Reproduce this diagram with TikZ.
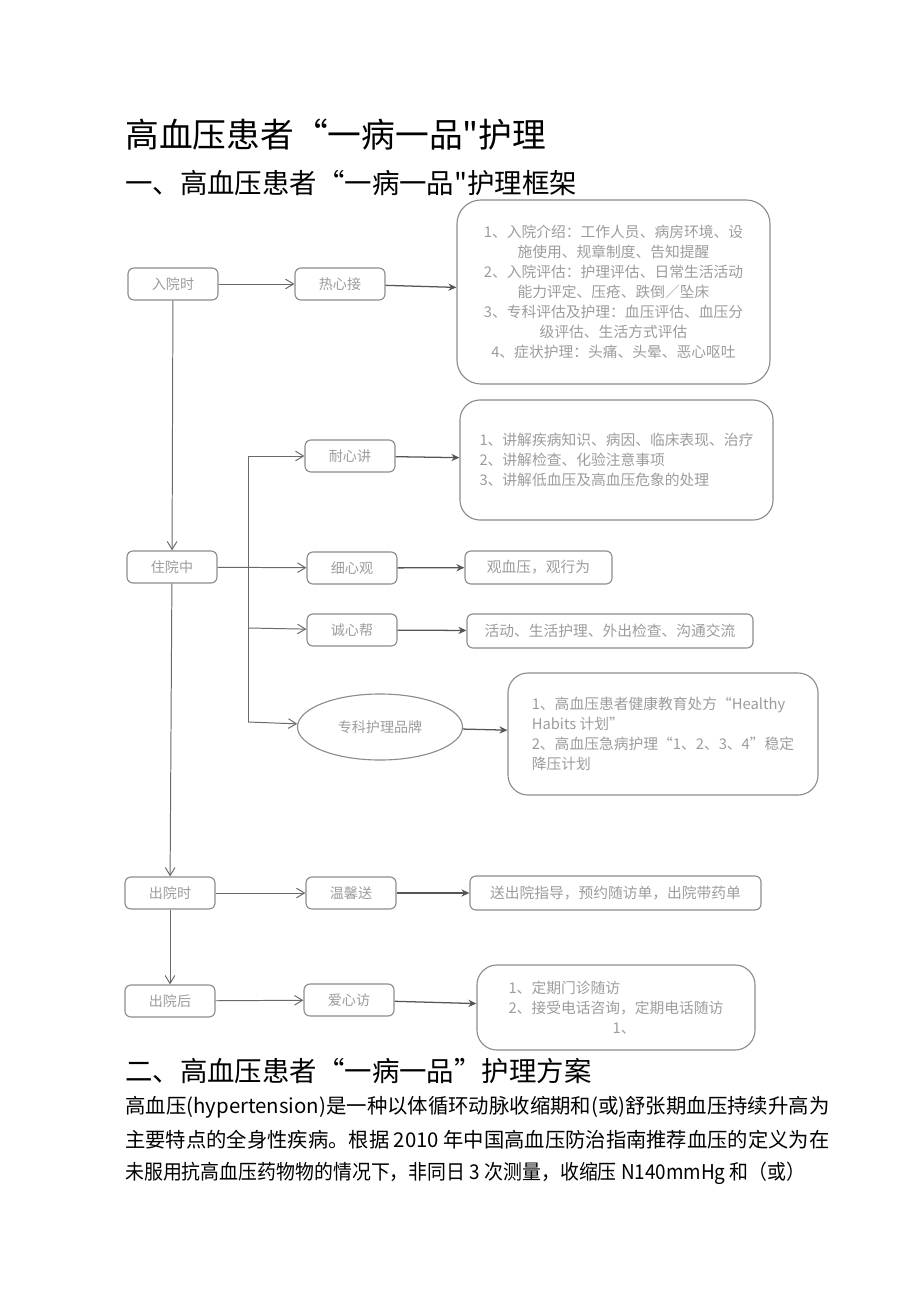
\documentclass[tikz,border=0pt]{standalone}
\usepackage{fontspec}
\usepackage{graphicx}
\setmainfont{Noto Sans CJK SC}[Ligatures=TeXOff]
\usetikzlibrary{arrows.meta,shapes.geometric,positioning}

\definecolor{boxgray}{HTML}{8C8C8C}
\definecolor{txtgray}{HTML}{9C9C9C}
\definecolor{linegray}{HTML}{6A6A6A}

\tikzset{
  stepbox/.style = {draw=boxgray, line width=0.8pt, rounded corners=1.5mm,
    minimum width=2.25cm, minimum height=0.8cm, text=txtgray,
    font=\fontsize{10}{12}\selectfont},
  brand/.style = {draw=boxgray, line width=0.8pt, ellipse,
    minimum width=4.125cm, minimum height=1.65cm, text=txtgray,
    font=\fontsize{10}{12}\selectfont},
  infobox/.style = {draw=boxgray, line width=0.8pt, rounded corners=1.5mm,
    text=txtgray, font=\fontsize{10.5}{14.2}\selectfont},
  flow/.style = {draw=linegray, line width=0.7pt, -{Straight Barb[length=2mm,width=2.4mm]}},
  link/.style = {draw=linegray!80!black, line width=0.9pt, -{Stealth[length=2mm,width=1.8mm]}},
  heading/.style = {anchor=west, inner sep=0pt},
}

\begin{document}
\begin{tikzpicture}[x=0.025cm, y=-0.025cm]
\useasboundingbox (0,0) rectangle (920,1301);

% titles
\node[heading, font=\fontsize{24}{28}\selectfont] (title) at (125,135) {高血压患者“一病一品"护理};
\node[heading, font=\fontsize{19.5}{24}\selectfont] (sec1) at (125,183) {一、高血压患者“一病一品"护理框架};

% left column
\node[stepbox] (ruyuan)  at (173,284)  {入院时};
\node[stepbox] (zhuyuan) at (172,567)  {住院中};
\node[stepbox] (chuyuan) at (170,893)  {出院时};
\node[stepbox] (yuanhou) at (170,1001) {出院后};

% middle column
\node[stepbox] (jie)    at (340,284)  {热心接};
\node[stepbox] (jiang)  at (350,456)  {耐心讲};
\node[stepbox] (guan)   at (352,568)  {细心观};
\node[stepbox] (bang)   at (352,630)  {诚心帮};
\node[brand]   (pinpai) at (380,727)  {专科护理品牌};
\node[stepbox] (song)   at (351,893)  {温馨送};
\node[stepbox] (fang)   at (349,1000) {爱心访};

% right column
\node[infobox, rounded corners=6mm, minimum width=7.825cm, minimum height=4.6cm, align=center]
  (jieinfo) at (613.5,292) {1、入院介绍：工作人员、病房环境、设\\
施使用、规章制度、告知提醒\\
2、入院评估：护理评估、日常生活活动\\
能力评定、压疮、跌倒／坠床\\
3、专科评估及护理：血压评估、血压分\\
级评估、生活方式评估\\
4、症状护理：头痛、头晕、恶心呕吐};
\node[infobox, rounded corners=5mm, minimum width=7.825cm, minimum height=3cm, align=left]
  (jianginfo) at (616.5,460) {1、讲解疾病知识、病因、临床表现、治疗\\
2、讲解检查、化验注意事项\\
3、讲解低血压及高血压危象的处理};
\node[infobox, minimum width=3.675cm, minimum height=0.825cm]
  (guaninfo) at (538.5,567.5) {观血压，观行为};
\node[infobox, minimum width=7.15cm, minimum height=0.85cm]
  (banginfo) at (610,631) {活动、生活护理、外出检查、沟通交流};
\node[infobox, rounded corners=5mm, minimum width=7.75cm, minimum height=3.05cm, align=left]
  (pinpaiinfo) at (663,734) {1、高血压患者健康教育处方“Healthy\\
Habits 计划”\\
2、高血压急病护理“1、2、3、4”稳定\\
降压计划};
\node[infobox, minimum width=7.275cm, minimum height=0.85cm]
  (songinfo) at (615.5,893) {送出院指导，预约随访单，出院带药单};
\node[infobox, rounded corners=5mm, minimum width=6.95cm, minimum height=2.125cm, align=left]
  (fanginfo) at (616,1007.5) {1、定期门诊随访\\
2、接受电话咨询，定期电话随访\\
\hspace*{2.6cm}1、};

% branch points
\coordinate (b1) at (248,456);
\coordinate (b2) at (248,628);
\coordinate (b3) at (248,722);

% connectors
\draw[flow] (ruyuan) -- (zhuyuan);
\draw[flow] (zhuyuan) -- (chuyuan);
\draw[flow] (chuyuan) -- (yuanhou);
\draw[flow] (ruyuan) -- (jie);
\draw[flow] (zhuyuan) -- (guan);
\draw[draw=linegray, line width=0.7pt] (b1) -- (b3);
\draw[flow] (b1) -- (jiang);
\draw[flow] (b2) -- (bang);
\draw[flow] (b3) -- (pinpai);
\draw[flow] (chuyuan) -- (song);
\draw[flow] (yuanhou) -- (fang);

\draw[link] (jie) -- (jieinfo);
\draw[link] (jiang) -- (jianginfo);
\draw[link] (guan) -- (guaninfo);
\draw[link] (bang) -- (banginfo);
\draw[link] (pinpai) -- (pinpaiinfo);
\draw[link] (song) -- (songinfo);
\draw[link] (fang) -- (fanginfo);

% section two
\node[heading, font=\fontsize{19.5}{24}\selectfont] (sec2) at (125,1071) {二、高血压患者“一病一品”护理方案};
\node[heading, font=\fontsize{14.5}{18}\selectfont] (para1) at (125,1107)
  {\resizebox{17.6cm}{\height}{高血压(hypertension)是一种以体循环动脉收缩期和(或)舒张期血压持续升高为}};
\node[heading, font=\fontsize{14.5}{18}\selectfont] (para2) at (125,1140)
  {\resizebox{17.6cm}{\height}{主要特点的全身性疾病。根据 2010 年中国高血压防治指南推荐血压的定义为在}};
\node[heading, font=\fontsize{14.5}{18}\selectfont] (para3) at (125,1173)
  {\resizebox{17cm}{\height}{未服用抗高血压药物物的情况下，非同日 3 次测量，收缩压 N140mmHg 和（或）}};
\end{tikzpicture}
\end{document}
